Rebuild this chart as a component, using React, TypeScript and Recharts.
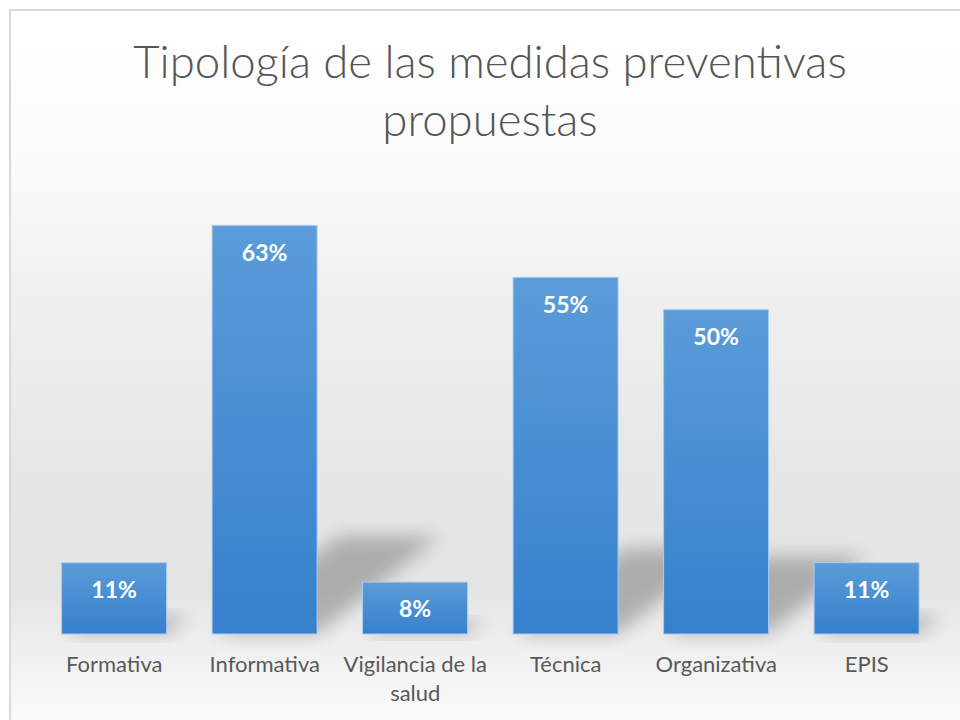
import React from 'react';
import { BarChart, Bar, XAxis, YAxis, LabelList } from 'recharts';

const categories = ['Formativa', 'Informativa', 'Vigilancia de la salud', 'Técnica', 'Organizativa', 'EPIS'];
const values = [11, 63, 8, 55, 50, 11];
const title = ['Tipología de las medidas preventivas', 'propuestas'];

const data = categories.map((c, i) => ({ name: c, value: values[i] }));

const FONT = 'Lato, "Open Sans", sans-serif';

const wrapWords = (s: string, maxChars: number) => {
  const words = s.split(' ');
  const lines: string[] = [];
  let cur = '';
  words.forEach((w) => {
    const next = cur ? cur + ' ' + w : w;
    if (next.length > maxChars && cur) {
      lines.push(cur);
      cur = w;
    } else {
      cur = next;
    }
  });
  if (cur) lines.push(cur);
  return lines;
};

const BarShape = (props: any) => {
  const { x, y, width, height } = props;
  const base = y + height;
  const k = height * 0.24;
  const s = height * 0.3;
  const pts = `${x + 4},${base} ${x + width},${base} ${x + width + s},${base - k} ${x + s + 4},${base - k}`;
  return (
    <g>
      <polygon points={pts} fill="#000" opacity={0.24} filter="url(#shadowBlur)" />
      <rect x={x} y={y} width={width} height={height} fill="url(#barGrad)" stroke="#a9cdef" strokeWidth={1} />
    </g>
  );
};

const Tick = (props: any) => {
  const { x, y, payload } = props;
  const lines = wrapWords(String(payload.value), 16);
  return (
    <text x={x} y={y + 30} textAnchor="middle" fill="#595959" fontSize={22} fontFamily={FONT}>
      {lines.map((l, i) => (
        <tspan key={i} x={x} dy={i === 0 ? 0 : 29}>
          {l}
        </tspan>
      ))}
    </text>
  );
};

export default function App() {
  return (
    <div style={{ position: 'absolute', left: 0, top: 0, width: 960, height: 720, overflow: 'hidden', background: '#fff' }}>
      <div
        style={{
          position: 'absolute',
          left: 9,
          top: 9,
          width: 980,
          height: 740,
          borderLeft: '2px solid #d9d9d9',
          borderTop: '2px solid #d9d9d9',
          background: 'linear-gradient(to bottom, #ffffff 0%, #fbfbfb 20%, #efefef 40%, #e7e7e7 60%, #e4e4e4 78%, #f4f4f4 90%, #ffffff 100%)',
        }}
      />
      <div
        style={{
          position: 'absolute',
          left: 10,
          top: 32,
          width: 960,
          textAlign: 'center',
          fontFamily: FONT,
          fontSize: 45.5,
          fontWeight: 300,
          lineHeight: '58px',
          color: '#555555',
        }}
      >
        {title.map((t) => (
          <div key={t}>{t}</div>
        ))}
      </div>
      <div style={{ position: 'absolute', left: 0, top: 0 }}>
        <BarChart width={960} height={720} data={data} margin={{ top: 180, right: 18, bottom: 26, left: 39 }} barCategoryGap="15%">
          <defs>
            <linearGradient id="barGrad" x1="0" y1="0" x2="0" y2="1">
              <stop offset="0%" stopColor="#5b9cd9" />
              <stop offset="100%" stopColor="#3680cc" />
            </linearGradient>
            <filter id="shadowBlur" x="-50%" y="-50%" width="200%" height="200%">
              <feGaussianBlur stdDeviation="9" />
            </filter>
          </defs>
          <YAxis hide domain={[0, 70]} />
          <XAxis dataKey="name" axisLine={false} tickLine={false} height={60} interval={0} tick={<Tick />} />
          <Bar dataKey="value" shape={<BarShape />} isAnimationActive={false}>
            <LabelList
              dataKey="value"
              position="insideTop"
              offset={19}
              formatter={(v: any) => `${v}%`}
              fill="#ffffff"
              fontSize={23}
              fontWeight={700}
              fontFamily={FONT}
            />
          </Bar>
        </BarChart>
      </div>
    </div>
  );
}
